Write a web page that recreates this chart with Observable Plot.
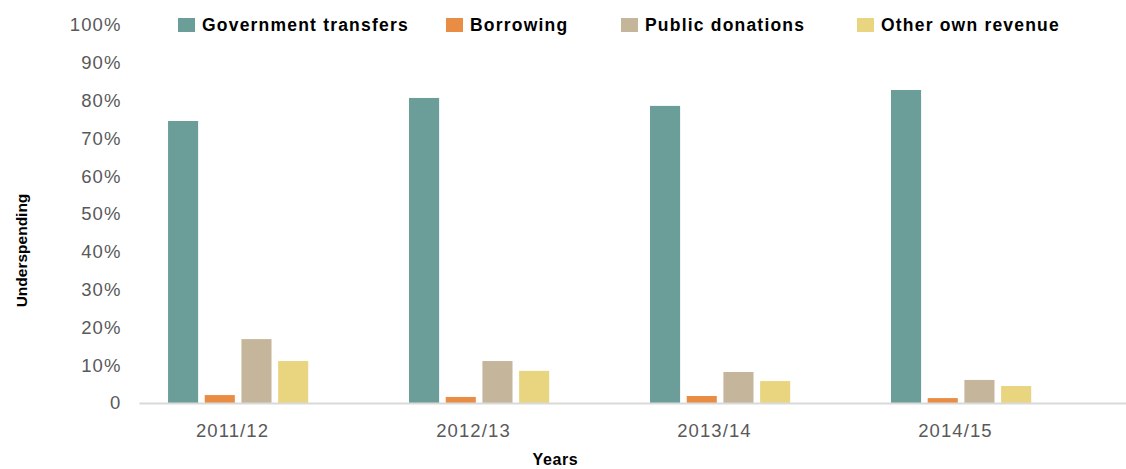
<!DOCTYPE html>
<html>
<head>
<meta charset="utf-8">
<script src="https://cdn.jsdelivr.net/npm/d3@7"></script>
<script src="https://cdn.jsdelivr.net/npm/@observablehq/plot@0.6"></script>
<style>
  body { margin: 0; background: #fff; }
  #wrap { position: relative; width: 1126px; height: 469px; overflow: hidden; }
  #legend { position: absolute; top: 0; left: 0; width: 1126px; height: 40px;
    font-family: "Liberation Sans", Arial, sans-serif; font-weight: bold; font-size: 17.5px;
    letter-spacing: 1.2px; color: #000; }
  .item { position: absolute; top: 15px; height: 20px; display: flex; align-items: center; white-space: nowrap; }
  .sw { width: 17px; height: 14px; margin-right: 7px; flex: none; }
  #chart [aria-label*="tick label"] text { letter-spacing: 1.1px; }
  #chart .wide text { letter-spacing: 0.6px; }
</style>
</head>
<body>
<div id="wrap"><div id="chart"></div><div id="legend"></div></div>
<script>
const years = ["2011/12", "2012/13", "2013/14", "2014/15"];
const series = ["Government transfers", "Borrowing", "Public donations", "Other own revenue"];
const colors = ["#6b9e98", "#e98d45", "#c4b59b", "#e9d57f"];
const govTransfers = [74.6, 80.7, 78.6, 82.8];
const borrowing = [2.1, 1.6, 1.85, 1.3];
const publicDonations = [16.9, 11.1, 8.2, 6.1];
const otherOwnRevenue = [11.1, 8.5, 5.8, 4.5];
const yTicks = [0, 10, 20, 30, 40, 50, 60, 70, 80, 90, 100];

const seriesValues = [govTransfers, borrowing, publicDonations, otherOwnRevenue];
const rows = [];
years.forEach((yr, i) => series.forEach((s, j) => rows.push({year: yr, series: s, value: seriesValues[j][i]})));

const plot = Plot.plot({
  width: 1126,
  height: 469,
  marginLeft: 140,
  marginRight: 0,
  marginTop: 25,
  marginBottom: 66,
  style: {fontFamily: "'Liberation Sans', Arial, sans-serif", fontSize: "18.5px", color: "#595959", background: "#fff"},
  fx: {domain: years, axis: "bottom", paddingInner: 0.2365, paddingOuter: 0.164, align: 0, round: false,
       tickSize: 0, tickPadding: 20, label: null},
  x: {domain: series, axis: null, paddingInner: 0.18, paddingOuter: 0.597, align: 0.64, round: false},
  y: {domain: [0, 100], ticks: yTicks, tickFormat: d => d === 0 ? "0" : d + "%", tickSize: 0, tickPadding: 19, label: null},
  color: {domain: series, range: colors},
  marks: [
    Plot.barY(rows, {fx: "year", x: "series", y: "value", fill: "series"}),
    Plot.frame({anchor: "bottom", stroke: "#d9d9d9", strokeWidth: 2, facet: "super"}),
    Plot.text(["Underspending"], {text: d => d, frameAnchor: "left", textAnchor: "middle", lineAnchor: "middle",
      dx: -118, dy: 36, rotate: -90, fill: "#000", fontWeight: "bold", fontSize: 15.5, facet: "super"}),
    Plot.text(["Years"], {text: d => d, frameAnchor: "bottom", textAnchor: "middle", lineAnchor: "middle",
      dx: -38.5, dy: 56, fill: "#000", fontWeight: "bold", fontSize: 16, facet: "super", className: "wide"})
  ]
});
// extend the baseline across the full plot width, as in the reference
const frameEl = plot.querySelector('[aria-label="frame"]');
if (frameEl) {
  const ln = frameEl.tagName.toLowerCase() === "line" ? frameEl : frameEl.querySelector("line");
  if (ln) ln.setAttribute("x2", plot.getAttribute("width"));
}
document.getElementById("chart").appendChild(plot);

const legendLeft = [178, 446, 621, 857];
const legend = document.getElementById("legend");
series.forEach((s, i) => {
  const item = document.createElement("div");
  item.className = "item";
  item.style.left = legendLeft[i] + "px";
  const sw = document.createElement("span");
  sw.className = "sw";
  sw.style.background = colors[i];
  const tx = document.createElement("span");
  tx.textContent = s;
  item.appendChild(sw);
  item.appendChild(tx);
  legend.appendChild(item);
});
</script>
</body>
</html>
